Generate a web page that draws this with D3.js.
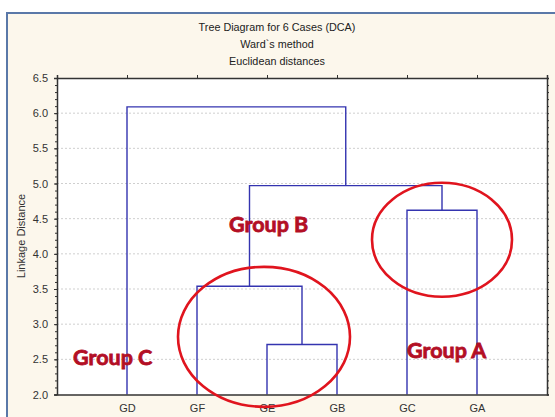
<!DOCTYPE html>
<html><head><meta charset="utf-8">
<script src="https://cdn.jsdelivr.net/npm/d3@7"></script>
<style>html,body{margin:0;padding:0;background:#fff;}svg{display:block;}</style>
</head><body>
<script>
const titles = ["Tree Diagram for 6 Cases (DCA)", "Ward`s method", "Euclidean distances"];
const leaves = ["GD", "GF", "GE", "GB", "GC", "GA"];
// merges: [left, right, linkage distance, name]
const mergeLeft  = ["GE", "GF", "GC", "M2", "GD"];
const mergeRight = ["GB", "M1", "GA", "M3", "M4"];
const mergeDist  = [2.71, 3.54, 4.62, 4.97, 6.09];
const mergeName  = ["M1", "M2", "M3", "M4", "M5"];
const yTicks = [2.0, 2.5, 3.0, 3.5, 4.0, 4.5, 5.0, 5.5, 6.0, 6.5];
const groupLabels = ["Group B", "Group A", "Group C"];

const W = 555, H = 417;
const M = {left: 57, right: 547, top: 78, bottom: 394.5};
const svg = d3.select("body").append("svg").attr("width", W).attr("height", H);

// frame
svg.append("rect").attr("x", 7).attr("y", 13).attr("width", 560).attr("height", 420)
  .attr("fill", "#fcf7ec").attr("stroke", "#5a78a8").attr("stroke-width", 2);

// titles
svg.selectAll("text.title").data(titles).join("text")
  .attr("x", 277).attr("y", (d, i) => 31 + i * 17)
  .attr("text-anchor", "middle").attr("font-family", "Liberation Sans, Arial, sans-serif")
  .attr("font-size", 10.8).attr("fill", "#222").text(d => d);

const x = d3.scalePoint().domain(leaves).range([M.left, M.right]).padding(1);
const y = d3.scaleLinear().domain([2, 6.5]).range([M.bottom, M.top]);

// plot background
svg.append("rect").attr("x", M.left).attr("y", M.top).attr("width", M.right - M.left)
  .attr("height", M.bottom - M.top).attr("fill", "#fff");

// grid
svg.append("g").selectAll("line").data(yTicks.filter(v => v > 2 && v < 6.5)).join("line")
  .attr("x1", M.left).attr("x2", M.right).attr("y1", d => y(d)).attr("y2", d => y(d))
  .attr("stroke", "#cfcfcf").attr("stroke-width", 1).attr("stroke-dasharray", "2,2");

// dendrogram
const pos = {};
leaves.forEach(l => pos[l] = {x: x(l), y: y(2)});
const links = [];
mergeName.forEach((n, i) => {
  const a = pos[mergeLeft[i]], b = pos[mergeRight[i]], h = y(mergeDist[i]);
  links.push([[a.x, a.y], [a.x, h], [b.x, h], [b.x, b.y]]);
  pos[n] = {x: (a.x + b.x) / 2, y: h};
});
const line = d3.line();
svg.append("g").selectAll("path").data(links).join("path")
  .attr("d", line).attr("fill", "none").attr("stroke", "#3434b0").attr("stroke-width", 1.4);

// axes
const axStyle = g => {
  g.selectAll("path.domain").attr("stroke", "#333").attr("stroke-width", 1.5);
  g.selectAll("line").attr("stroke", "#333");
  g.selectAll("text").attr("font-family", "Liberation Sans, Arial, sans-serif")
    .attr("font-size", 11).attr("fill", "#333");
};
const minor = d3.range(20, 66, 1).map(v => v / 10);
svg.append("g").attr("transform", `translate(${M.left},0)`)
  .call(d3.axisLeft(y).tickValues(minor).tickSize(2).tickFormat(""))
  .call(g => g.select("path.domain").remove()).call(axStyle);
svg.append("g").attr("transform", `translate(${M.left},0)`)
  .call(d3.axisLeft(y).tickValues(yTicks).tickSize(3).tickPadding(6).tickFormat(d3.format(".1f")))
  .call(axStyle);
svg.append("g").attr("transform", `translate(${M.right},0)`)
  .call(d3.axisRight(y).tickValues(minor).tickSize(2).tickFormat(""))
  .call(axStyle);
svg.append("g").attr("transform", `translate(0,${M.top})`)
  .call(d3.axisTop(x).tickSize(3).tickFormat("")).call(axStyle);
svg.append("g").attr("transform", `translate(0,${M.bottom})`)
  .call(d3.axisBottom(x).tickSize(0).tickPadding(10)).call(axStyle);

// y label
svg.append("text").attr("transform", `translate(25,236) rotate(-90)`)
  .attr("text-anchor", "middle").attr("font-family", "Liberation Sans, Arial, sans-serif")
  .attr("font-size", 11).attr("fill", "#333").text("Linkage Distance");

// ellipses
const ellipses = [
  {cx: (x("GE") + x("GF")) / 2 + 32, cy: y(2.82), rx: 86, ry: 70},
  {cx: (x("GC") + x("GA")) / 2, cy: y(4.2), rx: 70, ry: 57}
];
svg.append("g").selectAll("ellipse").data(ellipses).join("ellipse")
  .attr("cx", d => d.cx).attr("cy", d => d.cy).attr("rx", d => d.rx).attr("ry", d => d.ry)
  .attr("fill", "none").attr("stroke", "#e0141e").attr("stroke-width", 2.6);

// group labels
const lblPos = [[229, 232], [407, 358], [73, 365]];
svg.append("g").selectAll("text").data(groupLabels).join("text")
  .attr("x", (d, i) => lblPos[i][0]).attr("y", (d, i) => lblPos[i][1])
  .attr("font-family", "Lato, 'Open Sans', sans-serif").attr("font-weight", "bold")
  .attr("font-size", 21.5).attr("fill", "#b30f25")
  .attr("stroke", "#b30f25").attr("stroke-width", 0.8).attr("paint-order", "stroke")
  .text(d => d);
</script>
</body></html>
